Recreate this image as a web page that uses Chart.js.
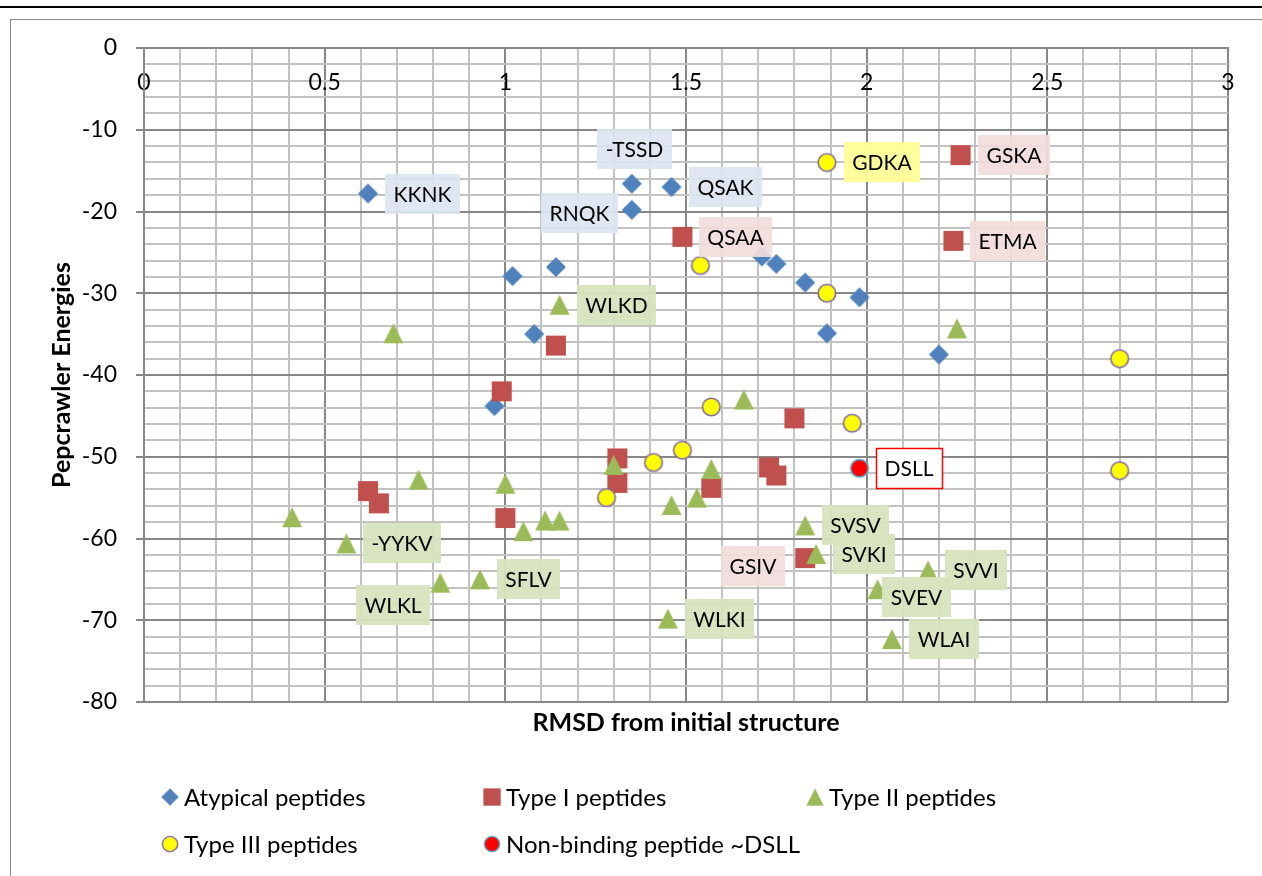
<!DOCTYPE html>
<html>
<head>
<meta charset="utf-8">
<title>Pepcrawler Energies vs RMSD</title>
<script src="https://cdn.jsdelivr.net/npm/chart.js@4.4.1/dist/chart.umd.min.js"></script>
<style>
  html, body { margin: 0; padding: 0; background: #fff; }
  body { width: 1262px; height: 876px; position: relative; overflow: hidden; }
  .page-rule { position: absolute; left: 0; right: 0; top: 6px; height: 2px; background: #000; }
  .chart-frame { position: absolute; left: 10px; top: 19px; width: 1400px; height: 1000px;
                 border-left: 1px solid #8a8a8a; border-top: 1px solid #8a8a8a; }
  #chart { position: absolute; left: 0; top: 0; }
</style>
</head>
<body>
<div class="page-rule"></div>
<div class="chart-frame"></div>
<canvas id="chart" width="1262" height="876"></canvas>
<script>
// RMSD (x) and Pepcrawler energy (y) per peptide, one set of arrays per class
const atypicalX = [0.62, 1.35, 1.46, 1.35, 1.02, 1.14, 1.71, 1.75, 1.83, 1.98, 1.08, 1.89, 2.20, 0.97];
const atypicalY = [-17.8, -16.6, -17.0, -19.8, -27.9, -26.8, -25.5, -26.4, -28.7, -30.5, -35.0, -34.9, -37.5, -43.8];
const atypicalNames = ['KKNK', '-TSSD', 'QSAK', 'RNQK'];

const typeIX = [2.26, 2.24, 1.49, 1.14, 0.99, 1.80, 1.31, 1.31, 1.57, 1.73, 1.75, 1.00, 0.62, 0.65, 1.83];
const typeIY = [-13.1, -23.6, -23.1, -36.4, -42.0, -45.3, -50.2, -53.2, -53.8, -51.3, -52.3, -57.5, -54.2, -55.7, -62.4];
const typeINames = ['GSKA', 'ETMA', 'QSAA', '', '', '', '', '', '', '', '', '', '', '', 'GSIV'];

const typeIIX = [0.69, 0.41, 0.56, 0.76, 1.15, 1.66, 1.30, 1.00, 1.57, 1.05, 1.11, 1.15,
                 1.46, 1.53, 1.83, 1.86, 0.82, 0.93, 1.45, 2.25, 2.17, 2.03, 2.07];
const typeIIY = [-34.9, -57.4, -60.6, -52.8, -31.4, -43.0, -51.0, -53.3, -51.5, -59.1, -57.8, -57.8,
                 -55.9, -55.0, -58.4, -61.9, -65.4, -65.0, -69.8, -34.3, -63.9, -66.2, -72.3];
const typeIINames = ['', '', '-YYKV', '', 'WLKD', '', '', '', '', '', '', '',
                     '', '', 'SVSV', 'SVKI', 'WLKL', 'SFLV', 'WLKI', '', 'SVVI', 'SVEV', 'WLAI'];

const typeIIIX = [1.89, 1.54, 1.89, 1.57, 1.49, 1.41, 1.28, 1.96, 2.70, 2.70];
const typeIIIY = [-14.0, -26.6, -30.0, -43.9, -49.2, -50.7, -55.0, -45.9, -38.0, -51.7];
const typeIIINames = ['GDKA'];

const nonBindingX = [1.98];
const nonBindingY = [-51.4];
const nonBindingNames = ['DSLL'];

// where a label box sits relative to its point (default: to the right)
const labelPlacement = {
  '-TSSD': { side: 'above', dx: 3, gap: 15 },
  'RNQK':  { side: 'left', gap: 14, dy: 3 },
  'GSIV':  { side: 'left', gap: 20, dy: 8 },
  'WLKL':  { side: 'left', gap: 10, dy: 22 },
  'SVEV':  { side: 'right', gap: 4, dy: 8 }
};

const FONT = 'Lato, "Open Sans", sans-serif';
const MAJOR = '#878787';
const MINOR = '#c2c2c2';

function isMultiple(v, step) {
  return Math.abs(v / step - Math.round(v / step)) < 1e-6;
}

// marker images so the shapes look like the spreadsheet ones
function makeMarker(shape) {
  const c = document.createElement('canvas');
  c.width = 22; c.height = 22;
  const g = c.getContext('2d');
  g.beginPath();
  if (shape === 'diamond') {
    g.moveTo(11, 1); g.lineTo(21, 11); g.lineTo(11, 21); g.lineTo(1, 11); g.closePath();
    g.fillStyle = '#4f81bd'; g.fill();
  } else if (shape === 'square') {
    g.rect(1, 1, 20, 20);
    g.fillStyle = '#c0504d'; g.fill();
  } else if (shape === 'triangle') {
    g.moveTo(11, 1); g.lineTo(21, 21); g.lineTo(1, 21); g.closePath();
    g.fillStyle = '#9bbb59'; g.fill();
  } else if (shape === 'yellow') {
    g.arc(11, 11, 8.8, 0, Math.PI * 2);
    g.fillStyle = '#ffff00'; g.fill();
    g.lineWidth = 1.6; g.strokeStyle = '#8064a2'; g.stroke();
  } else if (shape === 'red') {
    g.arc(11, 11, 8.8, 0, Math.PI * 2);
    g.fillStyle = '#ff0000'; g.fill();
    g.lineWidth = 1.6; g.strokeStyle = '#4bacc6'; g.stroke();
  }
  return c;
}

function series(label, xs, ys, names, marker, fill, order) {
  return {
    label,
    data: xs.map((x, i) => ({ x, y: ys[i], name: names[i] || '' })),
    pointStyle: makeMarker(marker),
    pointRadius: 10,
    pointHoverRadius: 10,
    showLine: false,
    labelFill: fill,
    order
  };
}

const datasets = [
  series('Atypical peptides', atypicalX, atypicalY, atypicalNames, 'diamond', 'rgba(220,230,241,0.92)', 5),
  series('Type I peptides', typeIX, typeIY, typeINames, 'square', 'rgba(242,220,219,0.92)', 4),
  series('Type II peptides', typeIIX, typeIIY, typeIINames, 'triangle', 'rgba(215,228,189,0.95)', 3),
  series('Type III peptides', typeIIIX, typeIIIY, typeIIINames, 'yellow', 'rgba(255,255,153,0.95)', 2),
  series('Non-binding peptide ~DSLL', nonBindingX, nonBindingY, nonBindingNames, 'red', 'boxed', 1)
];

// boxed text labels next to the named peptides
const pointLabels = {
  id: 'pointLabels',
  afterDatasetsDraw(chart) {
    const ctx = chart.ctx;
    ctx.save();
    ctx.font = '21px ' + FONT;
    ctx.textBaseline = 'middle';
    ctx.textAlign = 'center';
    chart.data.datasets.forEach((ds, di) => {
      const meta = chart.getDatasetMeta(di);
      ds.data.forEach((d, i) => {
        if (!d.name) return;
        const el = meta.data[i];
        const p = labelPlacement[d.name] || {};
        const side = p.side || 'right';
        const gap = p.gap !== undefined ? p.gap : 17;
        const w = Math.round(ctx.measureText(d.name).width + 17);
        const h = 40;
        let left, top;
        if (side === 'right') {
          left = el.x + gap; top = el.y + (p.dy || 0) - h / 2;
        } else if (side === 'left') {
          left = el.x - gap - w; top = el.y + (p.dy || 0) - h / 2;
        } else {
          left = el.x + (p.dx || 0) - w / 2; top = el.y - gap - h;
        }
        left = Math.round(left); top = Math.round(top);
        if (ds.labelFill === 'boxed') {
          ctx.fillStyle = '#fff';
          ctx.fillRect(left, top, w, h);
          ctx.strokeStyle = '#ff0000';
          ctx.lineWidth = 1.5;
          ctx.strokeRect(left + 0.5, top + 0.5, w, h);
        } else {
          ctx.fillStyle = ds.labelFill;
          ctx.fillRect(left, top, w, h);
        }
        ctx.fillStyle = '#000';
        ctx.fillText(d.name, left + w / 2, top + h / 2 + 1);
      });
    });
    ctx.restore();
  }
};

// two-row legend laid out in fixed columns under the plot
const columnLegend = {
  id: 'columnLegend',
  afterDraw(chart) {
    const ctx = chart.ctx;
    const cols = [170, 492, 815];
    const rows = [797, 844];
    ctx.save();
    ctx.font = '24px ' + FONT;
    ctx.textBaseline = 'middle';
    ctx.textAlign = 'left';
    ctx.fillStyle = '#000';
    chart.data.datasets.forEach((ds, i) => {
      const cx = cols[i % 3];
      const cy = rows[Math.floor(i / 3)];
      const img = ds.pointStyle;
      ctx.drawImage(img, cx - 9.5, cy - 9.5, 19, 19);
      ctx.fillText(ds.label, cx + 14, cy + 1);
    });
    ctx.restore();
  }
};

Chart.defaults.font.family = FONT;
Chart.defaults.color = '#000';

new Chart(document.getElementById('chart'), {
  type: 'scatter',
  data: { datasets },
  options: {
    responsive: false,
    animation: false,
    layout: { padding: { left: 0, top: 48, right: 34, bottom: 138 } },
    plugins: { legend: { display: false }, tooltip: { enabled: false } },
    scales: {
      x: {
        type: 'linear',
        position: { y: 0 },
        min: 0, max: 3,
        ticks: {
          stepSize: 0.1, autoSkip: false, maxRotation: 0, padding: 21,
          font: { size: 23 },
          callback: v => isMultiple(v, 0.5) ? String(+v.toFixed(1)) : ''
        },
        grid: {
          color: c => (c.tick && isMultiple(c.tick.value, 0.5)) ? MAJOR : MINOR,
          lineWidth: 2,
          drawTicks: false
        },
        border: { display: true, color: MAJOR, width: 2 }
      },
      xTitle: {
        type: 'linear',
        position: 'bottom',
        min: 0, max: 3,
        ticks: { display: false },
        grid: { display: false, drawTicks: false },
        border: { display: false },
        title: {
          display: true, text: 'RMSD from initial structure',
          font: { size: 25, weight: 'bold' }, padding: 0
        },
        afterFit: s => { s.height = 36; }
      },
      y: {
        type: 'linear',
        position: 'left',
        min: -80, max: 0,
        ticks: {
          stepSize: 2, autoSkip: false, padding: 19,
          font: { size: 23 },
          callback: v => isMultiple(v, 10) ? String(v) : ''
        },
        grid: {
          color: c => (c.tick && isMultiple(c.tick.value, 10)) ? MAJOR : MINOR,
          tickColor: c => (c.tick && isMultiple(c.tick.value, 10)) ? MAJOR : 'rgba(0,0,0,0)',
          tickLength: 8,
          lineWidth: 2
        },
        border: { display: true, color: MAJOR, width: 2 },
        title: {
          display: true, text: 'Pepcrawler Energies',
          font: { size: 25, weight: 'bold' }, padding: { top: 47, bottom: 0 }
        },
        afterFit: s => { s.width = 144; }
      }
    }
  },
  plugins: [pointLabels, columnLegend]
});
</script>
</body>
</html>
